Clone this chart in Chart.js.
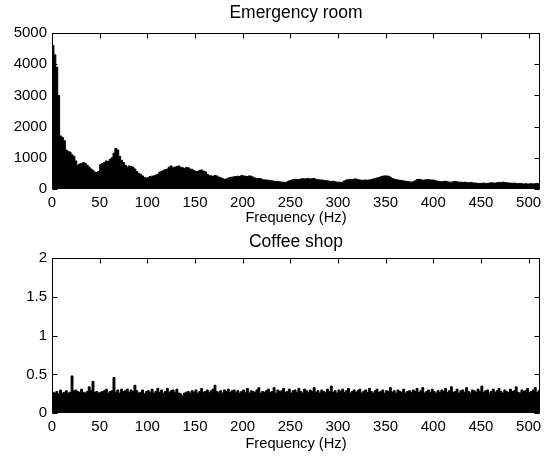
<!DOCTYPE html>
<html>
<head>
<meta charset="utf-8">
<script src="https://cdn.jsdelivr.net/npm/chart.js@4"></script>
<style>
  html, body { margin: 0; padding: 0; background: #fff; }
  #wrap { position: relative; width: 548px; height: 456px; }
  canvas { position: absolute; left: 0; }
</style>
</head>
<body>
<div id="wrap">
  <canvas id="erChart" width="548" height="228" style="top:0"></canvas>
  <canvas id="coffeeChart" width="548" height="228" style="top:228px"></canvas>
</div>
<script>
const freqStep = 2;

const erPower = [
  4600, 4300, 3900, 3000, 1700, 1650, 1550, 1250, 1200, 1180, 1100, 1050, 900, 760, 800, 820,
  850, 820, 760, 700, 640, 600, 540, 530, 560, 780, 820, 850, 900, 880, 950, 1000,
  1150, 1300, 1250, 1050, 920, 850, 760, 700, 740, 720, 700, 640, 560, 500, 470, 420,
  370, 350, 360, 400, 410, 420, 450, 460, 540, 560, 600, 620, 640, 700, 740, 680,
  700, 720, 740, 700, 680, 660, 690, 680, 640, 630, 590, 560, 560, 600, 610, 570,
  550, 470, 430, 420, 410, 430, 420, 380, 360, 330, 310, 320, 350, 370, 380, 390,
  400, 410, 400, 430, 420, 410, 400, 420, 410, 380, 350, 340, 340, 330, 300, 290,
  290, 280, 270, 260, 250, 240, 240, 230, 220, 220, 210, 230, 260, 280, 300, 310,
  310, 300, 320, 330, 320, 330, 340, 320, 330, 340, 310, 300, 290, 290, 280, 270,
  260, 250, 240, 250, 230, 220, 220, 210, 220, 260, 290, 300, 310, 300, 320, 320,
  300, 290, 280, 280, 290, 280, 290, 300, 320, 340, 350, 370, 390, 410, 420, 420,
  410, 380, 340, 320, 300, 290, 280, 270, 260, 250, 240, 230, 220, 230, 260, 300,
  310, 300, 280, 290, 300, 300, 290, 290, 280, 260, 250, 240, 230, 240, 250, 230,
  220, 220, 230, 240, 230, 220, 220, 210, 220, 210, 200, 210, 200, 190, 190, 180,
  180, 180, 190, 180, 180, 190, 200, 190, 190, 200, 210, 200, 220, 210, 200, 190,
  190, 180, 190, 180, 170, 180, 170, 160, 170, 160, 160, 170, 160, 170, 180, 170,
  170
];

const coffeePower = [
  0.27, 0.26, 0.28, 0.25, 0.30, 0.26, 0.27, 0.29, 0.26, 0.27, 0.48, 0.29, 0.30, 0.28, 0.27, 0.31,
  0.27, 0.26, 0.28, 0.34, 0.29, 0.41, 0.27, 0.28, 0.26, 0.27, 0.28, 0.29, 0.31, 0.26, 0.28, 0.29,
  0.46, 0.27, 0.30, 0.26, 0.31, 0.28, 0.29, 0.31, 0.27, 0.30, 0.28, 0.36, 0.29, 0.26, 0.27, 0.30,
  0.25, 0.28, 0.29, 0.27, 0.31, 0.26, 0.28, 0.32, 0.27, 0.30, 0.26, 0.28, 0.32, 0.27, 0.29, 0.30,
  0.27, 0.31, 0.26, 0.25, 0.23, 0.26, 0.27, 0.28, 0.26, 0.29, 0.27, 0.30, 0.26, 0.28, 0.32, 0.27,
  0.28, 0.30, 0.27, 0.29, 0.31, 0.36, 0.28, 0.27, 0.29, 0.26, 0.30, 0.28, 0.31, 0.27, 0.29, 0.30,
  0.27, 0.29, 0.26, 0.28, 0.30, 0.27, 0.32, 0.26, 0.29, 0.28, 0.27, 0.30, 0.33, 0.26, 0.28, 0.27,
  0.29, 0.31, 0.27, 0.28, 0.33, 0.26, 0.30, 0.28, 0.29, 0.32, 0.27, 0.28, 0.31, 0.26, 0.29, 0.30,
  0.27, 0.32, 0.28, 0.26, 0.31, 0.29, 0.27, 0.30, 0.28, 0.33, 0.27, 0.29, 0.26, 0.30, 0.28, 0.27,
  0.31, 0.28, 0.35, 0.27, 0.29, 0.26, 0.30, 0.28, 0.31, 0.27, 0.29, 0.32, 0.26, 0.28, 0.30, 0.27,
  0.29, 0.31, 0.26, 0.28, 0.30, 0.27, 0.32, 0.28, 0.26, 0.29, 0.31, 0.27, 0.28, 0.30, 0.26, 0.29,
  0.28, 0.33, 0.27, 0.29, 0.26, 0.30, 0.28, 0.27, 0.31, 0.26, 0.28, 0.29, 0.27, 0.30, 0.28, 0.32,
  0.27, 0.29, 0.33, 0.26, 0.28, 0.30, 0.27, 0.31, 0.28, 0.26, 0.29, 0.27, 0.30, 0.28, 0.32, 0.27,
  0.29, 0.34, 0.27, 0.28, 0.31, 0.26, 0.29, 0.30, 0.27, 0.33, 0.28, 0.26, 0.30, 0.29, 0.27, 0.31,
  0.28, 0.35, 0.27, 0.29, 0.30, 0.26, 0.28, 0.31, 0.27, 0.29, 0.32, 0.28, 0.26, 0.30, 0.28, 0.27,
  0.31, 0.28, 0.29, 0.34, 0.27, 0.26, 0.30, 0.28, 0.29, 0.32, 0.27, 0.28, 0.30, 0.33, 0.27, 0.29,
  0.28
];

const titles = ["Emergency room", "Coffee shop"];
const xLabel = "Frequency (Hz)";

const fontFamily = "'Liberation Sans', Arial, Helvetica, sans-serif";

// MATLAB style box with inward ticks on all four sides
const boxTicks = {
  id: "boxTicks",
  afterDraw(chart) {
    const { ctx, chartArea: a, scales } = chart;
    const L = Math.round(a.left) + 0.5, R = Math.round(a.right) - 0.5;
    const T = Math.round(a.top) + 0.5, B = Math.round(a.bottom) - 0.5;
    ctx.save();
    ctx.strokeStyle = "#000";
    ctx.lineWidth = 1;
    ctx.beginPath();
    scales.x.ticks.forEach((t, i) => {
      const px = Math.round(scales.x.getPixelForTick(i)) + 0.5;
      ctx.moveTo(px, B); ctx.lineTo(px, B - 5);
      ctx.moveTo(px, T); ctx.lineTo(px, T + 5);
    });
    scales.y.ticks.forEach((t, i) => {
      const py = Math.round(scales.y.getPixelForTick(i)) + 0.5;
      ctx.moveTo(L, py); ctx.lineTo(L + 5, py);
      ctx.moveTo(R, py); ctx.lineTo(R - 5, py);
    });
    ctx.stroke();
    ctx.strokeRect(L, T, R - L, B - T);
    ctx.restore();
  }
};

function makeChart(id, values, title, yMax, yStep, titlePad, xHeight, xTitlePad) {
  const points = values.map((v, i) => ({ x: i * freqStep, y: v }));
  return new Chart(document.getElementById(id), {
    type: "line",
    data: {
      datasets: [{
        data: points,
        borderColor: "#000",
        backgroundColor: "#000",
        borderWidth: 1,
        pointRadius: 0,
        stepped: true,
        fill: "origin",
      }]
    },
    options: {
      responsive: false,
      animation: false,
      events: [],
      layout: { padding: { left: 0, right: 8, top: 0, bottom: 0 } },
      plugins: {
        legend: { display: false },
        tooltip: { enabled: false },
        title: {
          display: true,
          fullSize: false,
          text: title,
          color: "#000",
          font: { family: fontFamily, size: 17.5, weight: "normal" },
          padding: titlePad,
        },
      },
      scales: {
        x: {
          type: "linear",
          min: 0,
          max: 512,
          grid: { display: false, drawTicks: false },
          border: { display: false },
          ticks: {
            stepSize: 50,
            includeBounds: false,
            autoSkip: false,
            maxRotation: 0,
            padding: 5,
            color: "#000",
            font: { family: fontFamily, size: 15 },
          },
          title: {
            display: true,
            text: xLabel,
            color: "#000",
            font: { family: fontFamily, size: 14.7 },
            padding: { top: 0, bottom: xTitlePad },
          },
          afterFit: s => { s.height = xHeight; },
        },
        y: {
          min: 0,
          max: yMax,
          grid: { display: false, drawTicks: false },
          border: { display: false },
          ticks: {
            stepSize: yStep,
            padding: 5,
            color: "#000",
            font: { family: fontFamily, size: 15 },
            callback: v => String(v),
          },
          afterFit: s => { s.width = 52; },
        },
      },
    },
    plugins: [boxTicks],
  });
}

makeChart("erChart", erPower, titles[0], 5000, 1000, { top: 2.5, bottom: 9.5 }, 39, 1);
makeChart("coffeeChart", coffeePower, titles[1], 2, 0.5, { top: 4, bottom: 4.7 }, 42.7, 3.6);
</script>
</body>
</html>
